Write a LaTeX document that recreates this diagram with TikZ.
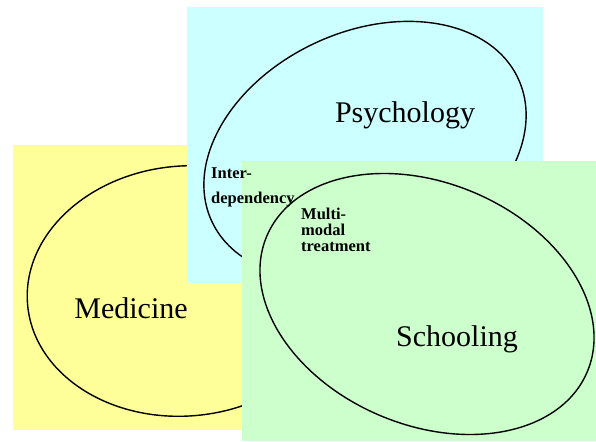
\documentclass[tikz,border=0pt]{standalone}
\usepackage{fontspec}
\setmainfont{Liberation Serif}
\definecolor{medyellow}{RGB}{255,255,153}
\definecolor{psycyan}{RGB}{204,255,255}
\definecolor{schgreen}{RGB}{204,255,204}
\begin{document}
\begin{tikzpicture}[x=1pt,y=1pt]
        \tikzstyle{ring}=[draw=black,line width=1.4pt]
        \tikzstyle{discipline}=[font=\fontsize{30}{36}\selectfont,inner sep=0pt,anchor=base]
        \tikzstyle{overlap}=[font=\fontsize{16.5}{16}\selectfont\bfseries,align=left,inner sep=0pt,anchor=north west]
        \useasboundingbox (0,0) rectangle (596,441);
        % medicine
        \fill[medyellow] (13,11) rectangle (290,296);
        \draw[ring,rotate around={5:(185,150)}] (185,150) ellipse [x radius=158,y radius=125];
        \node [discipline] (medicine) at (131,122) {Medicine};
        % psychology
        \fill[psycyan] (187,158) rectangle (543,434);
        \draw[ring,rotate around={25:(365,291)}] (365,291) ellipse [x radius=169,y radius=118];
        \node [discipline] (psychology) at (405,318) {Psychology};
        % schooling
        \fill[schgreen] (242,0) rectangle (596,280);
        \draw[ring,rotate around={-23:(427,137)}] (427,137) ellipse [x radius=174,y radius=121];
        \node [discipline] (schooling) at (457,94) {Schooling};
        % overlaps
        \node [overlap,font=\fontsize{16.5}{25}\selectfont\bfseries] (interdep) at (211,273) {Inter-\\dependency};
        \node [overlap] (multimodal) at (301,233) {Multi-\\modal\\treatment};
\end{tikzpicture}
\end{document}
